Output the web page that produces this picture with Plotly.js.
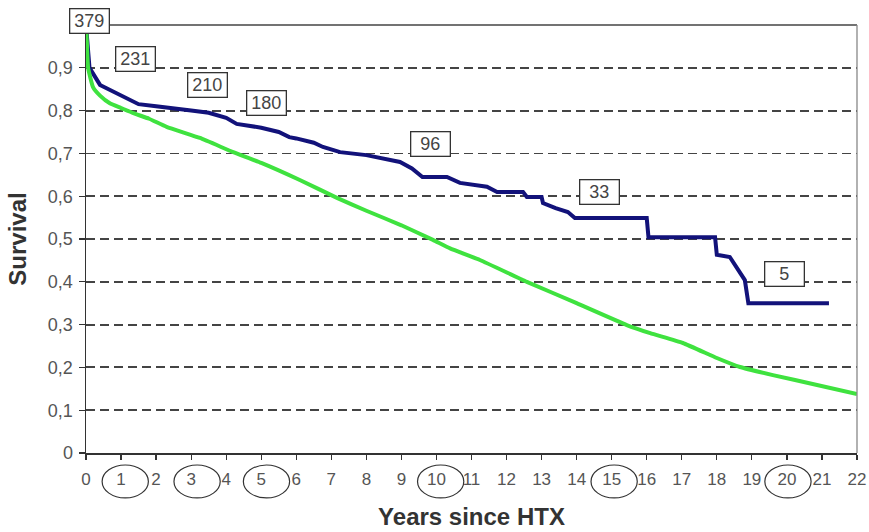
<!DOCTYPE html>
<html>
<head>
<meta charset="utf-8">
<script src="https://cdn.plot.ly/plotly-3.0.1.min.js"></script>
<style>html,body{margin:0;padding:0;background:#fff;}#chart{width:869px;height:532px;}</style>
</head>
<body>
<div id="chart"></div>
<script>
// Observed survival after HTX (step curve)
const observedYears = [0, 0.05, 0.1, 0.4, 0.7, 1.0, 1.3, 1.5, 2.0, 2.5, 3.0, 3.5, 4.0, 4.3, 4.8, 5.0, 5.5, 5.8, 6.0, 6.5, 6.76, 7.25, 8.0, 8.96, 9.3, 9.6, 10.3, 10.67, 11.44, 11.73, 12.47, 12.58, 13.0, 13.04, 13.4, 13.75, 13.95, 16.0, 16.05, 17.95, 18.0, 18.37, 18.8, 18.9, 21.2];
const observedSurvival = [1.0, 0.93, 0.90, 0.86, 0.848, 0.836, 0.825, 0.815, 0.81, 0.804, 0.80, 0.795, 0.783, 0.769, 0.762, 0.76, 0.75, 0.738, 0.735, 0.725, 0.715, 0.703, 0.696, 0.68, 0.665, 0.645, 0.645, 0.631, 0.622, 0.61, 0.61, 0.598, 0.598, 0.584, 0.572, 0.563, 0.549, 0.549, 0.504, 0.504, 0.463, 0.458, 0.404, 0.35, 0.35];

// Reference / expected curve
const expectedYears = [0, 0.03, 0.06, 0.2, 0.4, 0.68, 1.0, 1.35, 1.8, 2.3, 3.25, 4.2, 5.0, 6.1, 7.16, 8.0, 9.0, 9.9, 10.39, 11.24, 12.58, 14.0, 15.43, 16.1, 17.03, 18.0, 18.66, 19.6, 20.86, 22];
const expectedSurvival = [1.0, 0.95, 0.90, 0.855, 0.835, 0.817, 0.806, 0.794, 0.781, 0.762, 0.736, 0.703, 0.678, 0.638, 0.596, 0.566, 0.532, 0.498, 0.478, 0.451, 0.40, 0.35, 0.299, 0.28, 0.257, 0.222, 0.201, 0.182, 0.159, 0.138];

// Numbers at risk
const atRiskLabels = ['379', '231', '210', '180', '96', '33', '5'];
const atRiskX = [0.09, 1.4, 3.48, 5.16, 9.84, 14.64, 19.94];
const atRiskY = [1.0, 0.92, 0.859, 0.818, 0.723, 0.609, 0.418];

// Axis ticks
const xTickVals = [0,1,2,3,4,5,6,7,8,9,10,11,12,13,14,15,16,17,18,19,20,21,22];
const xTickText = xTickVals.map(String);
const yTickVals = [0, 0.1, 0.2, 0.3, 0.4, 0.5, 0.6, 0.7, 0.8, 0.9];
const yTickText = ['0', '0,1', '0,2', '0,3', '0,4', '0,5', '0,6', '0,7', '0,8', '0,9'];
const circledYears = [1, 3, 5, 10, 15, 20];
const circleCenters = [1.12, 3.17, 5.15, 10.12, 15.07, 20.03];

const FONT = 'Liberation Sans, Arial, sans-serif';

const traces = [
  {x: observedYears, y: observedSurvival, type: 'scatter', mode: 'lines',
   line: {color: '#12127a', width: 4}, showlegend: false, hoverinfo: 'skip'},
  {x: expectedYears, y: expectedSurvival, type: 'scatter', mode: 'lines',
   line: {color: '#3fe23f', width: 4, shape: 'spline', smoothing: 0.4}, showlegend: false, hoverinfo: 'skip'}
];

const shapes = [
  {type: 'line', xref: 'paper', yref: 'paper', x0: 0, x1: 1, y0: 1, y1: 1, line: {color: '#444', width: 1.3}},
  {type: 'line', xref: 'paper', yref: 'paper', x0: 1, x1: 1, y0: 0, y1: 1, line: {color: '#888', width: 1.3}}
];
circleCenters.forEach(c => {
  shapes.push({type: 'circle', xref: 'x', yref: 'paper', x0: c - 0.66, x1: c + 0.66, y0: -0.105, y1: -0.028,
    line: {color: '#333', width: 1.2}, fillcolor: 'rgba(0,0,0,0)'});
});

const annotations = atRiskLabels.map((t, i) => ({
  x: atRiskX[i], y: atRiskY[i], xref: 'x', yref: 'y', text: t, showarrow: false,
  yshift: i === 0 ? 4 : 0,
  font: {family: FONT, size: 18, color: '#444'}, bgcolor: '#fff', bordercolor: '#333',
  borderwidth: 1.3, borderpad: 2, width: 34, height: 19
}));

const layout = {
  width: 869, height: 532,
  margin: {l: 86, r: 12, t: 25, b: 79, pad: 0},
  paper_bgcolor: '#fff', plot_bgcolor: '#fff',
  font: {family: FONT, color: '#444'},
  showlegend: false,
  xaxis: {
    range: [0, 22], tickmode: 'array', tickvals: xTickVals, ticktext: xTickText,
    ticks: 'outside', ticklen: 5, tickcolor: '#333', tickwidth: 1.2, ticklabelstandoff: 5,
    showline: true, linecolor: '#333', linewidth: 1.5, showgrid: false, zeroline: false,
    tickfont: {family: FONT, size: 17, color: '#555'},
    title: {text: 'Years since HTX', font: {family: FONT, size: 24, color: '#333', weight: 'bold'}, standoff: 20}
  },
  yaxis: {
    range: [0, 1], tickmode: 'array', tickvals: yTickVals, ticktext: yTickText,
    ticks: 'outside', ticklen: 6, tickcolor: '#333', tickwidth: 1.2, ticklabelstandoff: 2,
    showline: true, linecolor: '#333', linewidth: 1.5, zeroline: false,
    showgrid: true, gridcolor: '#444', gridwidth: 1.8, griddash: '9px,5px',
    tickfont: {family: FONT, size: 18, color: '#555'},
    title: {text: 'Survival', font: {family: FONT, size: 24, color: '#333', weight: 'bold'}, standoff: 14}
  },
  shapes: shapes,
  annotations: annotations
};

Plotly.newPlot('chart', traces, layout, {displayModeBar: false, staticPlot: true});
</script>
</body>
</html>
